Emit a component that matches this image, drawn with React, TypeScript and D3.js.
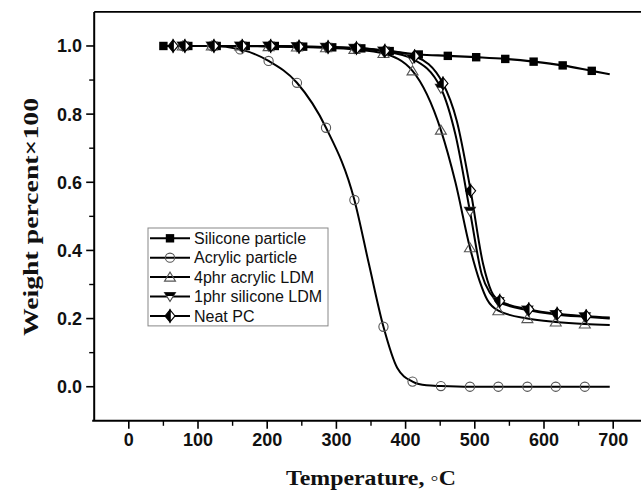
import React from "react";
import * as d3 from "d3";

type P = [number, number];

const seriesNames = ["Silicone particle", "Acrylic particle", "4phr acrylic LDM", "1phr silicone LDM", "Neat PC"];
const markerTypes = ["square", "circle", "triUp", "triDown", "halfDiamond"];

// marker points (x = °C, y = weight fraction)
const siliconeMarkers: P[] = [[50, 1.0], [86, 1.0], [127, 1.0], [169, 1.0], [211, 1.0], [252, 0.998], [294, 0.996], [336, 0.993], [377, 0.985], [419, 0.975], [461, 0.971], [502, 0.967], [544, 0.962], [585, 0.954], [627, 0.943], [669, 0.927]];
const siliconeExtra: P[] = [[695, 0.917]];

const acrylicMarkers: P[] = [[78, 1.0], [120, 1.0], [161, 0.99], [202, 0.956], [243, 0.892], [285, 0.76], [326, 0.548], [368, 0.176], [410, 0.015], [451, 0.002], [493, 0.0], [534, 0.0], [576, 0.0], [617, 0.0], [659, 0.0]];
const acrylicExtra: P[] = [[55, 1.0], [347, 0.36], [388, 0.055], [430, 0.004], [695, 0.0]];

const acryLdmMarkers: P[] = [[78, 1.0], [120, 1.0], [161, 1.0], [202, 0.998], [243, 0.997], [285, 0.995], [326, 0.99], [368, 0.978], [410, 0.927], [451, 0.753], [493, 0.408], [534, 0.223], [576, 0.2], [617, 0.19], [659, 0.184]];
const acryLdmExtra: P[] = [[55, 1.0], [472, 0.6], [507, 0.31], [518, 0.255], [695, 0.181]];

const siliLdmMarkers: P[] = [[78, 1.0], [120, 1.0], [161, 1.0], [202, 1.0], [243, 0.998], [285, 0.996], [326, 0.993], [368, 0.985], [410, 0.962], [451, 0.876], [493, 0.515], [534, 0.25], [576, 0.225], [617, 0.212], [659, 0.205]];
const siliLdmExtra: P[] = [[55, 1.0], [472, 0.74], [510, 0.33], [522, 0.275], [695, 0.2]];

const neatMarkers: P[] = [[64, 1.0], [81, 1.0], [123, 1.0], [164, 1.0], [205, 1.0], [246, 0.998], [288, 0.997], [329, 0.994], [370, 0.986], [413, 0.97], [454, 0.89], [494, 0.575], [536, 0.252], [578, 0.227], [619, 0.214], [661, 0.207]];
const neatExtra: P[] = [[55, 1.0], [474, 0.78], [512, 0.36], [524, 0.28], [695, 0.203]];

const allMarkers = [siliconeMarkers, acrylicMarkers, acryLdmMarkers, siliLdmMarkers, neatMarkers];
const allExtras = [siliconeExtra, acrylicExtra, acryLdmExtra, siliLdmExtra, neatExtra];

const xMajorTicks = [0, 100, 200, 300, 400, 500, 600, 700];
const xMinorTicks = [50, 150, 250, 350, 450, 550, 650];
const yMajorTicks = [0.0, 0.2, 0.4, 0.6, 0.8, 1.0];
const yMinorTicks = [0.1, 0.3, 0.5, 0.7, 0.9];

const W = 641, H = 492;

function Marker({ type, x, y }: { type: string; x: number; y: number }) {
  const t = `translate(${x},${y})`;
  if (type === "square") return <rect x={x - 4.2} y={y - 4.2} width={8.4} height={8.4} fill="#000" />;
  if (type === "circle") return <circle cx={x} cy={y} r={4.6} fill="none" stroke="#555" strokeWidth={1.1} />;
  if (type === "triUp") return <path transform={t} d="M0,-5 L5.5,4 L-5.5,4 Z" fill="none" stroke="#555" strokeWidth={1.1} />;
  if (type === "triDown")
    return (
      <g transform={t}>
        <path d="M-5.5,-4 L5.5,-4 L0,5 Z" fill="#fff" stroke="#444" strokeWidth={1.1} />
        <path d="M-5.5,-4 L5.5,-4 L3.3,-0.4 L-3.3,-0.4 Z" fill="#000" />
      </g>
    );
  return (
    <g transform={t}>
      <path d="M0,-6 L5,0 L0,6 Z" fill="#fff" stroke="#000" strokeWidth={1.1} />
      <path d="M0,-6 L-5,0 L0,6 Z" fill="#000" stroke="#000" strokeWidth={1.1} />
    </g>
  );
}

export default function App() {
  const x = d3.scaleLinear().domain([-50, 750]).range([94.2, 647.8]);
  const y = d3.scaleLinear().domain([-0.1, 1.1]).range([420.8, 11.9]);
  const line = d3
    .line<P>()
    .x((d) => x(d[0]))
    .y((d) => y(d[1]))
    .curve(d3.curveMonotoneX);

  const left = x(-50), right = x(750), top = y(1.1), bottom = y(-0.1);

  const legendX = 148, legendTop = 228, legendW = 180, rowH = 19.4, firstRow = 238.3;

  return (
    <div style={{ position: "absolute", left: 0, top: 0 }}>
      <svg width={W} height={H} style={{ display: "block", background: "#fff" }}>
        <defs>
          <clipPath id="clipPlot">
            <rect x={0} y={0} width={W} height={H} />
          </clipPath>
        </defs>
        {/* frame */}
        <line x1={left} x2={right} y1={top} y2={top} stroke="#000" strokeWidth={1.6} />
        <line x1={left} x2={left} y1={top} y2={bottom} stroke="#000" strokeWidth={2} />
        <line x1={left - 2} x2={right} y1={bottom} y2={bottom} stroke="#000" strokeWidth={2} />
        {/* y ticks */}
        {yMajorTicks.map((v) => (
          <g key={"ym" + v}>
            <line x1={left - 8} x2={left} y1={y(v)} y2={y(v)} stroke="#000" strokeWidth={1.6} />
            <text x={82} y={y(v)} dy="0.36em" textAnchor="end" fontFamily="'Liberation Sans', Arial, sans-serif" fontWeight="bold" fontSize={18} fill="#111">
              {v.toFixed(1)}
            </text>
          </g>
        ))}
        {yMinorTicks.map((v) => (
          <line key={"yn" + v} x1={left - 5} x2={left} y1={y(v)} y2={y(v)} stroke="#000" strokeWidth={1.4} />
        ))}
        {/* x ticks */}
        {xMajorTicks.map((v) => (
          <g key={"xm" + v}>
            <line x1={x(v)} x2={x(v)} y1={bottom} y2={bottom + 8} stroke="#000" strokeWidth={1.6} />
            <text x={x(v)} y={440} dy="0.36em" textAnchor="middle" fontFamily="'Liberation Sans', Arial, sans-serif" fontWeight="bold" fontSize={18} fill="#111">
              {v}
            </text>
          </g>
        ))}
        {xMinorTicks.map((v) => (
          <line key={"xn" + v} x1={x(v)} x2={x(v)} y1={bottom} y2={bottom + 5} stroke="#000" strokeWidth={1.4} />
        ))}
        {/* axis titles */}
        <text x={371} y={478} dy="0.35em" textAnchor="middle" fontFamily="'Liberation Serif', 'Times New Roman', serif" fontWeight="bold" fontSize={21} textLength={170} lengthAdjust="spacingAndGlyphs" fill="#111">
          Temperature, ◦C
        </text>
        <text transform="translate(30,217) rotate(-90)" dy="0.35em" textAnchor="middle" fontFamily="'Liberation Serif', 'Times New Roman', serif" fontWeight="bold" fontSize={22} textLength={238} lengthAdjust="spacingAndGlyphs" fill="#111">
          Weight percent×100
        </text>
        {/* series */}
        <g clipPath="url(#clipPlot)">
          {allMarkers.map((m, i) => {
            const pts = [...m, ...allExtras[i]].sort((a, b) => a[0] - b[0]);
            return <path key={"l" + i} d={line(pts) || ""} fill="none" stroke="#000" strokeWidth={i === 0 ? 2.2 : 2} />;
          })}
          {allMarkers.map((m, i) =>
            m.map((p, j) => <Marker key={"m" + i + "-" + j} type={markerTypes[i]} x={x(p[0])} y={y(p[1])} />)
          )}
        </g>
        {/* legend */}
        <rect x={legendX} y={legendTop} width={legendW} height={firstRow + rowH * 4 + 10 - legendTop} fill="#fff" stroke="#888" strokeWidth={1} />
        {seriesNames.map((name, i) => {
          const ry = firstRow + i * rowH;
          return (
            <g key={"lg" + i}>
              <line x1={150} x2={190} y1={ry} y2={ry} stroke="#000" strokeWidth={2} />
              <Marker type={markerTypes[i]} x={170} y={ry} />
              <text x={194} y={ry} dy="0.36em" fontFamily="'Liberation Sans', Arial, sans-serif" fontSize={16} fill="#111">
                {name}
              </text>
            </g>
          );
        })}
      </svg>
    </div>
  );
}
